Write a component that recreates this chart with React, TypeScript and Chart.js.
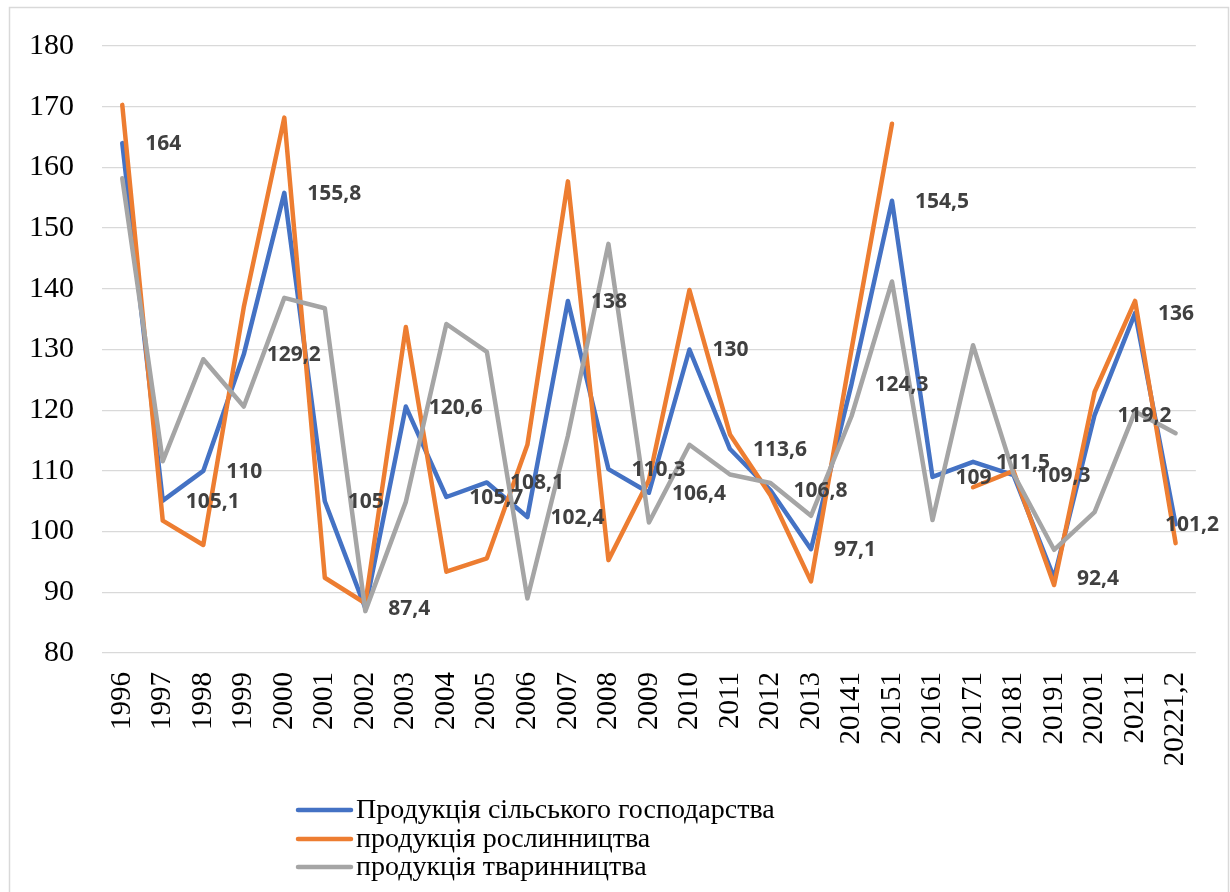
import { useEffect, useRef } from "react";
import { Chart, registerables } from "chart.js";

Chart.register(...registerables);

const categories = [
  "1996", "1997", "1998", "1999", "2000", "2001", "2002", "2003", "2004",
  "2005", "2006", "2007", "2008", "2009", "2010", "2011", "2012", "2013",
  "20141", "20151", "20161", "20171", "20181", "20191", "20201", "20211", "20221,2",
];

const seriesNames = [
  "Продукція сільського господарства",
  "продукція рослинництва",
  "продукція тваринництва",
];

const agriculture = [
  164, 105.1, 110, 129.2, 155.8, 105, 87.4, 120.6, 105.7, 108.1, 102.4, 138, 110.3,
  106.4, 130, 113.6, 106.8, 97.1, 124.3, 154.5, 109, 111.5, 109.3, 92.4, 119.2, 136, 101.2,
];

const crops = [
  170.3, 101.8, 97.8, 137, 168.2, 92.4, 88.2, 133.7, 93.4, 95.6, 114.3, 157.7, 95.3,
  108.5, 139.8, 116, 106, 91.8, 130, 167.2, null, 107.3, 110, 91.2, 123, 138, 98.1,
];

const livestock = [
  158.2, 111.6, 128.4, 120.6, 138.5, 136.8, 86.9, 104.9, 134.2, 129.6, 89, 115.8, 147.4,
  101.5, 114.3, 109.4, 108, 102.6, 119, 141.2, 101.9, 130.7, 109.5, 97, 103.2, 119.8, 116.2,
];

const colors = ["#4472C4", "#ED7D31", "#A5A5A5"];

const SERIF = '"Liberation Serif", "Times New Roman", serif';

const backgroundPlugin = {
  id: "bg",
  beforeDraw(chart: any) {
    const ctx = chart.ctx;
    ctx.save();
    ctx.fillStyle = "#ffffff";
    ctx.fillRect(0, 0, chart.width, chart.height);
    ctx.restore();
  },
  afterDraw(chart: any) {
    const ctx = chart.ctx;
    ctx.save();
    ctx.strokeStyle = "#D9D9D9";
    ctx.lineWidth = 1.5;
    ctx.strokeRect(9.5, 7.5, chart.width - 11, chart.height + 20);
    ctx.restore();
  },
};

const dataLabelPlugin = {
  id: "dataLabels",
  afterDatasetsDraw(chart: any) {
    const meta = chart.getDatasetMeta(0);
    const ctx = chart.ctx;
    ctx.save();
    ctx.font = '700 21px "Open Sans", "DejaVu Sans", sans-serif';
    ctx.fillStyle = "#404040";
    ctx.textBaseline = "middle";
    ctx.textAlign = "left";
    meta.data.forEach((pt: any, i: number) => {
      const text = String(agriculture[i]).replace(".", ",");
      const w = ctx.measureText(text).width;
      const x = Math.min(pt.x + 23, chart.width - 11 - w);
      ctx.fillText(text, x, pt.y + 1);
    });
    ctx.restore();
  },
};

const legendPlugin = {
  id: "customLegend",
  afterDraw(chart: any) {
    const ctx = chart.ctx;
    ctx.save();
    const rows = [810, 839, 867];
    ctx.font = `28px ${SERIF}`;
    ctx.textBaseline = "middle";
    ctx.textAlign = "left";
    seriesNames.forEach((name, i) => {
      const y = rows[i];
      ctx.strokeStyle = colors[i];
      ctx.lineWidth = 4.5;
      ctx.lineCap = "round";
      ctx.beginPath();
      ctx.moveTo(298, y);
      ctx.lineTo(351, y);
      ctx.stroke();
      ctx.fillStyle = "#000000";
      ctx.fillText(name, 356, y + 1);
    });
    ctx.restore();
  },
};

export default function App() {
  const canvasRef = useRef<HTMLCanvasElement | null>(null);

  useEffect(() => {
    if (!canvasRef.current) return;
    const data = [agriculture, crops, livestock];
    const chart = new Chart(canvasRef.current, {
      type: "line",
      data: {
        labels: categories,
        datasets: data.map((d, i) => ({
          label: seriesNames[i],
          data: d,
          borderColor: colors[i],
          backgroundColor: colors[i],
          borderWidth: 4.5,
          pointRadius: 0,
          pointHoverRadius: 0,
          tension: 0,
          borderCapStyle: "round",
          borderJoinStyle: "round",
          spanGaps: false,
          order: 2 - i,
        })),
      },
      options: {
        animation: false,
        responsive: false,
        devicePixelRatio: 1,
        layout: { padding: { top: 38, right: 32, left: 0, bottom: 0 } },
        plugins: {
          legend: { display: false },
          tooltip: { enabled: false },
        },
        scales: {
          x: {
            type: "category",
            offset: true,
            grid: { display: false, drawTicks: false },
            border: { display: false },
            ticks: {
              autoSkip: false,
              minRotation: 90,
              maxRotation: 90,
              padding: 19,
              color: "#000000",
              font: { family: SERIF, size: 29 },
            },
            afterFit(s: any) {
              s.height = 239;
            },
          },
          y: {
            min: 80,
            max: 180,
            ticks: {
              stepSize: 10,
              padding: 28,
              color: "#000000",
              font: { family: SERIF, size: 30 },
            },
            grid: { color: "#D9D9D9", lineWidth: 1.3, drawTicks: false },
            border: { display: false },
            afterFit(s: any) {
              s.width = 102;
            },
          },
        },
      },
      plugins: [backgroundPlugin, dataLabelPlugin, legendPlugin],
    } as any);
    return () => chart.destroy();
  }, []);

  return (
    <div style={{ position: "absolute", left: 0, top: 0, width: 1230, height: 892, background: "#fff" }}>
      <canvas ref={canvasRef} width={1230} height={892} style={{ display: "block" }} />
    </div>
  );
}
